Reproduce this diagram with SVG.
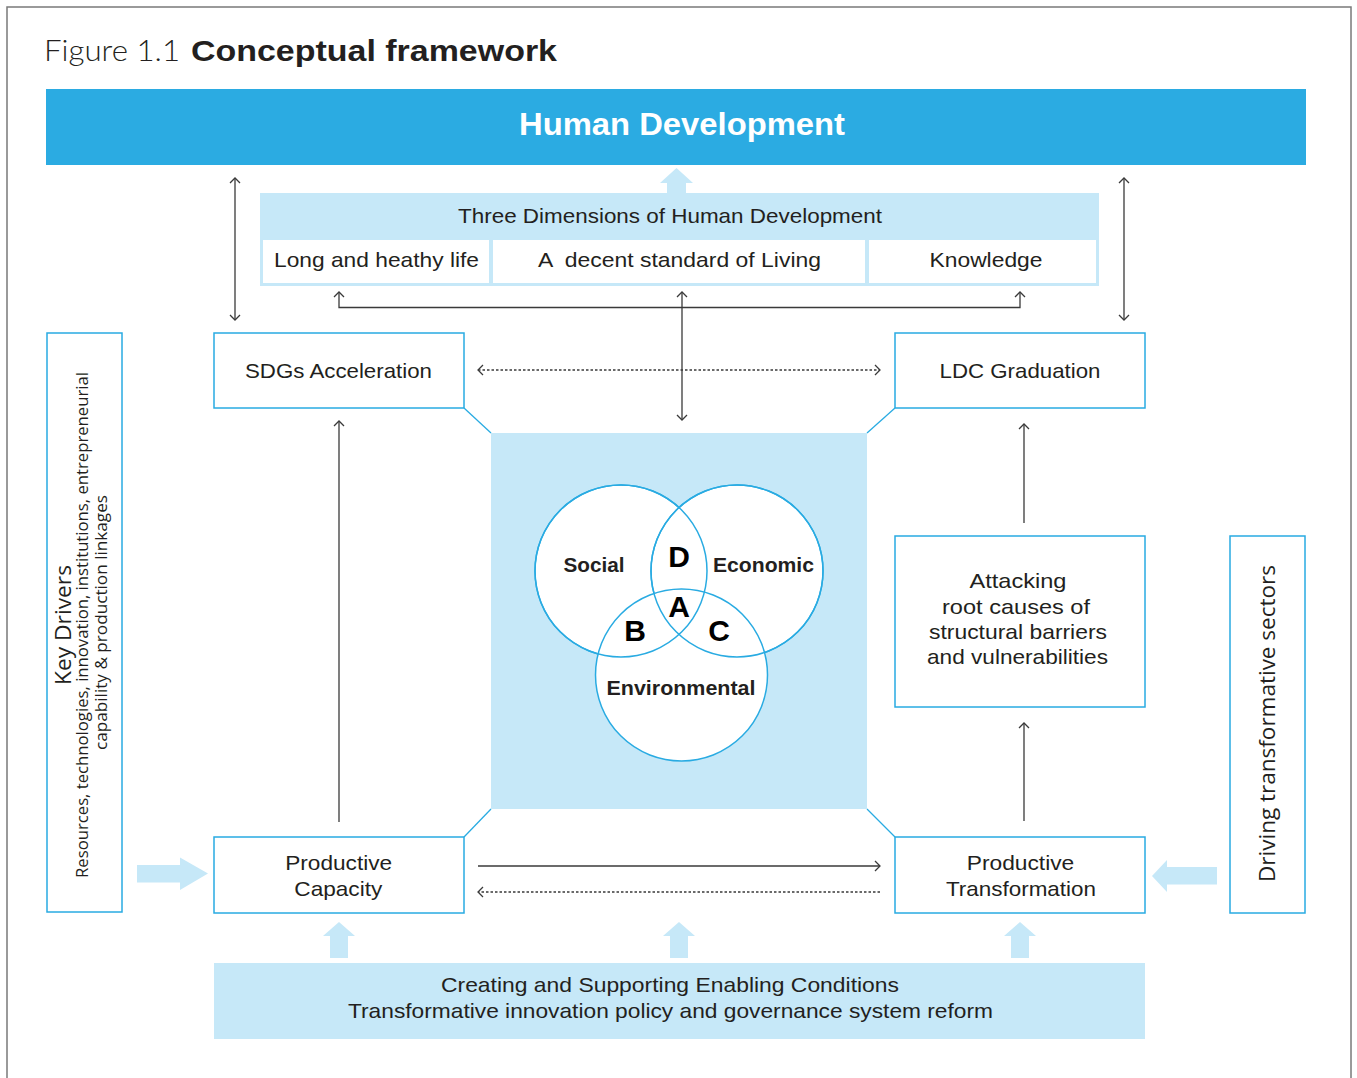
<svg xmlns="http://www.w3.org/2000/svg" width="1357" height="1078" viewBox="0 0 1357 1078">
  <defs>
    <style>
      .t { font-family: "Liberation Sans", Arial, sans-serif; fill: #231F20; }
      .os { font-family: "Open Sans", "Liberation Sans", sans-serif; fill: #231F20; }
      .box { fill: #ffffff; stroke: #29ABE2; stroke-width: 1.5; }
      .lb { fill: #C6E8F8; }
      .conn { fill: none; stroke: #3A3A3A; stroke-width: 1.3; }
      .dot { stroke-dasharray: 2.5 2; }
      .diag { fill: none; stroke: #29ABE2; stroke-width: 1.3; }
      .venn { fill: #ffffff; stroke: #29ABE2; stroke-width: 1.5; }
      .vb { font-family: "Liberation Sans", Arial, sans-serif; font-weight: bold; fill: #231F20; }
      .blk { fill: #000000; }
    </style>
    <marker id="ah" viewBox="-7 -6 8 12" refX="0" refY="0" markerWidth="8" markerHeight="12" markerUnits="userSpaceOnUse" orient="auto-start-reverse">
      <path d="M-5,-5 L0,0 L-5,5" fill="none" stroke="#3A3A3A" stroke-width="1.3"/>
    </marker>
  </defs>

  <rect x="7" y="7" width="1344" height="1100" fill="#ffffff" stroke="#7A7A7A" stroke-width="1.5"/>

  <g id="title">
    <text class="t" x="44" y="61" font-size="30" font-weight="300" textLength="136" lengthAdjust="spacingAndGlyphs" style="font-family:Lato,'Liberation Sans',sans-serif">Figure 1.1</text>
    <text class="t" x="191" y="61" font-size="30" font-weight="bold" textLength="366" lengthAdjust="spacingAndGlyphs">Conceptual framework</text>
  </g>

  <g id="human-development">
    <rect x="46" y="89" width="1260" height="76" fill="#2BABE2"/>
    <text class="t" x="682" y="135" font-size="32" font-weight="bold" text-anchor="middle" textLength="326" lengthAdjust="spacingAndGlyphs" style="fill:#ffffff">Human Development</text>
  </g>

  <g id="three-dimensions">
    <rect class="lb" x="260" y="193" width="839" height="93"/>
    <rect x="263" y="240" width="226" height="43" fill="#ffffff"/>
    <rect x="493" y="240" width="372" height="43" fill="#ffffff"/>
    <rect x="869" y="240" width="227" height="43" fill="#ffffff"/>
    <text class="t" x="670" y="223" font-size="21" text-anchor="middle" textLength="424" lengthAdjust="spacingAndGlyphs">Three Dimensions of Human Development</text>
    <text class="t" x="376.5" y="267" font-size="21" text-anchor="middle" textLength="205" lengthAdjust="spacingAndGlyphs">Long and heathy life</text>
    <text class="t" x="679.5" y="267" font-size="21" text-anchor="middle" textLength="283" lengthAdjust="spacingAndGlyphs" xml:space="preserve">A  decent standard of Living</text>
    <text class="t" x="986" y="267" font-size="21" text-anchor="middle" textLength="113" lengthAdjust="spacingAndGlyphs">Knowledge</text>
  </g>

  <g id="sdgs-acceleration">
    <rect class="box" x="214" y="333" width="250" height="75"/>
    <text class="t" x="338.5" y="378" font-size="21" text-anchor="middle" textLength="187" lengthAdjust="spacingAndGlyphs">SDGs Acceleration</text>
  </g>

  <g id="ldc-graduation">
    <rect class="box" x="895" y="333" width="250" height="75"/>
    <text class="t" x="1020" y="378" font-size="21" text-anchor="middle" textLength="161" lengthAdjust="spacingAndGlyphs">LDC Graduation</text>
  </g>

  <g id="sustainability-venn">
    <rect class="lb" x="491" y="433" width="376" height="376"/>
    <circle class="venn" cx="621" cy="571" r="86"/>
    <circle class="venn" cx="737" cy="571" r="86"/>
    <circle class="venn" cx="681.5" cy="675" r="86"/>
    <circle cx="621" cy="571" r="86" fill="none" stroke="#29ABE2" stroke-width="1.5"/>
    <circle cx="737" cy="571" r="86" fill="none" stroke="#29ABE2" stroke-width="1.5"/>
    <text class="vb" x="594" y="572" font-size="21" text-anchor="middle" textLength="61" lengthAdjust="spacingAndGlyphs">Social</text>
    <text class="vb" x="763.5" y="572" font-size="21" text-anchor="middle" textLength="101" lengthAdjust="spacingAndGlyphs">Economic</text>
    <text class="vb" x="681" y="695" font-size="21" text-anchor="middle" textLength="149" lengthAdjust="spacingAndGlyphs">Environmental</text>
    <text class="vb" x="679" y="567" font-size="30" text-anchor="middle" style="fill:#000">D</text>
    <text class="vb" x="679" y="617" font-size="30" text-anchor="middle" style="fill:#000">A</text>
    <text class="vb" x="635" y="641" font-size="30" text-anchor="middle" style="fill:#000">B</text>
    <text class="vb" x="719" y="641" font-size="30" text-anchor="middle" style="fill:#000">C</text>
  </g>

  <g id="attacking-root-causes">
    <rect class="box" x="895" y="536" width="250" height="171"/>
    <text class="t" x="1018" y="588" font-size="21" text-anchor="middle" textLength="97" lengthAdjust="spacingAndGlyphs">Attacking</text>
    <text class="t" x="1016" y="614" font-size="21" text-anchor="middle" textLength="148" lengthAdjust="spacingAndGlyphs">root causes of</text>
    <text class="t" x="1018" y="639" font-size="21" text-anchor="middle" textLength="178" lengthAdjust="spacingAndGlyphs">structural barriers</text>
    <text class="t" x="1017.5" y="664" font-size="21" text-anchor="middle" textLength="181" lengthAdjust="spacingAndGlyphs">and vulnerabilities</text>
  </g>

  <g id="key-drivers">
    <rect class="box" x="47" y="333" width="75" height="579"/>
    <text class="os" transform="translate(71,625) rotate(-90)" font-size="22" text-anchor="middle" textLength="120" lengthAdjust="spacingAndGlyphs">Key Drivers</text>
    <text class="os" transform="translate(88,625) rotate(-90)" font-size="16" text-anchor="middle" textLength="506" lengthAdjust="spacingAndGlyphs">Resources, technologies, innovation, institutions, entrepreneurial</text>
    <text class="os" transform="translate(107,622.5) rotate(-90)" font-size="16" text-anchor="middle" textLength="255" lengthAdjust="spacingAndGlyphs">capability &amp; production linkages</text>
  </g>

  <g id="driving-sectors">
    <rect class="box" x="1230" y="536" width="75" height="377"/>
    <text class="os" transform="translate(1275,723.5) rotate(-90)" font-size="22" text-anchor="middle" textLength="317" lengthAdjust="spacingAndGlyphs">Driving transformative sectors</text>
  </g>

  <g id="productive-capacity">
    <rect class="box" x="214" y="837" width="250" height="76"/>
    <text class="t" x="338.7" y="870" font-size="21" text-anchor="middle" textLength="107" lengthAdjust="spacingAndGlyphs">Productive</text>
    <text class="t" x="338.3" y="896" font-size="21" text-anchor="middle" textLength="88" lengthAdjust="spacingAndGlyphs">Capacity</text>
  </g>

  <g id="productive-transformation">
    <rect class="box" x="895" y="837" width="250" height="76"/>
    <text class="t" x="1020.5" y="870" font-size="21" text-anchor="middle" textLength="107.6" lengthAdjust="spacingAndGlyphs">Productive</text>
    <text class="t" x="1021" y="896" font-size="21" text-anchor="middle" textLength="150" lengthAdjust="spacingAndGlyphs">Transformation</text>
  </g>

  <g id="enabling-conditions">
    <rect class="lb" x="214" y="963" width="931" height="76"/>
    <text class="t" x="670" y="992" font-size="21" text-anchor="middle" textLength="458" lengthAdjust="spacingAndGlyphs">Creating and Supporting Enabling Conditions</text>
    <text class="t" x="670.5" y="1018" font-size="21" text-anchor="middle" textLength="645" lengthAdjust="spacingAndGlyphs">Transformative innovation policy and governance system reform</text>
  </g>

  <g id="connectors">
    <!-- block arrows -->
    <path class="lb" d="M667,193 L667,183 L660,183 L676.5,168 L693,183 L686,183 L686,193 Z"/>
    <path class="lb" d="M137,865 L180,865 L180,857.5 L208,873.5 L180,890 L180,882.5 L137,882.5 Z"/>
    <path class="lb" d="M1217,867 L1167,867 L1167,860 L1152,876 L1167,892 L1167,884.5 L1217,884.5 Z"/>
    <path class="lb" d="M330,958 L330,936 L323,936 L339,922 L355,936 L348,936 L348,958 Z"/>
    <path class="lb" d="M670,958 L670,936 L663,936 L679,922 L695,936 L688,936 L688,958 Z"/>
    <path class="lb" d="M1011,958 L1011,936 L1004,936 L1020,922 L1036,936 L1029,936 L1029,958 Z"/>

    <!-- corner diagonals -->
    <line class="diag" x1="464" y1="408" x2="491" y2="433"/>
    <line class="diag" x1="867" y1="433" x2="895" y2="408"/>
    <line class="diag" x1="491" y1="809" x2="464" y2="837"/>
    <line class="diag" x1="867" y1="809" x2="895" y2="837"/>

    <!-- thin arrows -->
    <line class="conn" x1="235" y1="178" x2="235" y2="320" marker-start="url(#ah)" marker-end="url(#ah)"/>
    <line class="conn" x1="1124" y1="178" x2="1124" y2="320" marker-start="url(#ah)" marker-end="url(#ah)"/>
    <path class="conn" d="M339,292 L339,307.5 L1020,307.5 L1020,292" marker-start="url(#ah)" marker-end="url(#ah)"/>
    <line class="conn" x1="682" y1="292" x2="682" y2="420" marker-start="url(#ah)" marker-end="url(#ah)"/>
    <line class="conn dot" x1="478" y1="370" x2="880" y2="370" marker-start="url(#ah)" marker-end="url(#ah)"/>
    <line class="conn" x1="339" y1="822" x2="339" y2="421" marker-end="url(#ah)"/>
    <line class="conn" x1="1024" y1="523" x2="1024" y2="424" marker-end="url(#ah)"/>
    <line class="conn" x1="1024" y1="821" x2="1024" y2="723" marker-end="url(#ah)"/>
    <line class="conn" x1="478" y1="866" x2="880" y2="866" marker-end="url(#ah)"/>
    <line class="conn dot" x1="880" y1="892" x2="478" y2="892" marker-end="url(#ah)"/>
  </g>
</svg>
